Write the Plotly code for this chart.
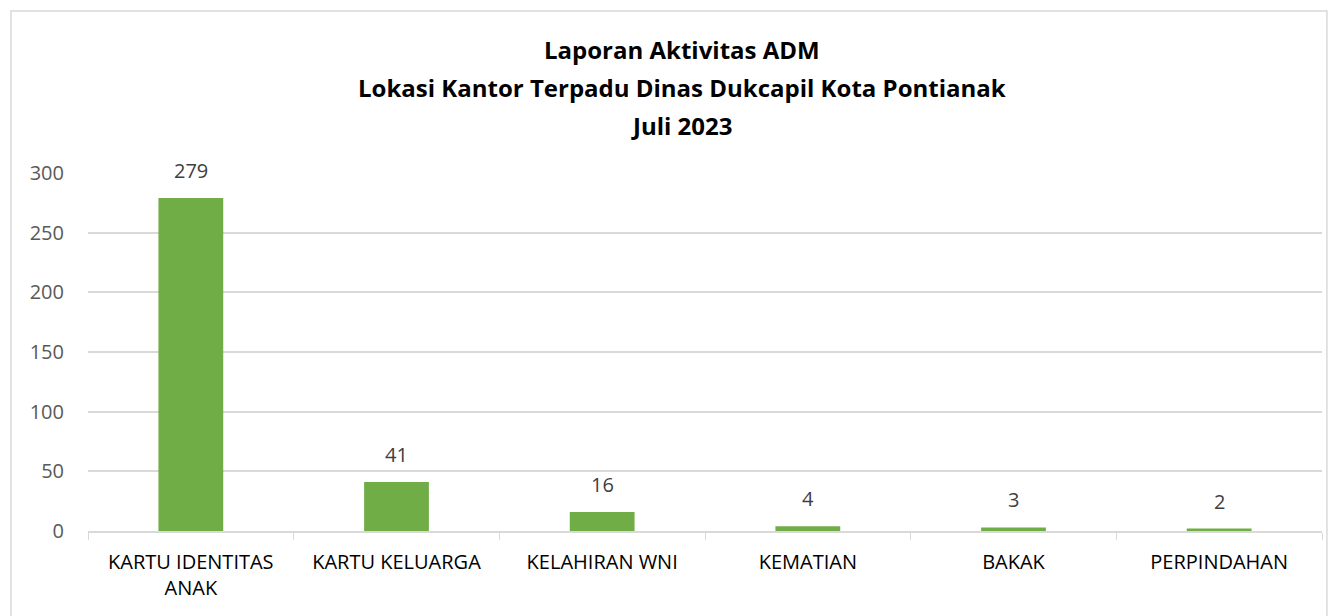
import plotly.graph_objects as go

categories = ["KARTU IDENTITAS<br>ANAK", "KARTU KELUARGA", "KELAHIRAN WNI", "KEMATIAN", "BAKAK", "PERPINDAHAN"]
values = [279, 41, 16, 4, 3, 2]
title_lines = ["Laporan Aktivitas ADM", "Lokasi Kantor Terpadu Dinas Dukcapil Kota Pontianak", "Juli 2023"]
y_ticks = [0, 50, 100, 150, 200, 250, 300]

FONT = "Open Sans"
fig = go.Figure()
fig.add_trace(go.Bar(
    x=categories, y=values, marker=dict(color="#70AD47", line=dict(width=0)),
    width=0.315, hoverinfo="x+y",
))

annotations = []
for c, v in zip(categories, values):
    annotations.append(dict(x=c, y=v, xref="x", yref="y", text=str(v), showarrow=False,
                            yanchor="bottom", yshift=12,
                            font=dict(family=FONT, size=20, color="#404040")))
title_y = [1.3436, 1.2402, 1.134]
for t, yy in zip(title_lines, title_y):
    annotations.append(dict(x=0.4814, y=yy, xref="paper", yref="paper", text="<b>" + t + "</b>",
                            showarrow=False, xanchor="center", yanchor="middle",
                            font=dict(family=FONT, size=24, color="#000000")))

fig.update_layout(
    width=1328, height=616,
    margin=dict(l=88, r=6, t=173, b=85),
    paper_bgcolor="white", plot_bgcolor="white",
    showlegend=False,
    annotations=annotations,
    shapes=[dict(type="rect", xref="paper", yref="paper", x0=-0.0624, x1=1.004, y0=-0.3, y1=1.4525,
                 line=dict(color="#D9D9D9", width=1.5), layer="below")],
    xaxis=dict(showgrid=False, showline=True, linecolor="#D9D9D9", linewidth=1.5,
               ticks="outside", ticklen=7, tickcolor="#D9D9D9", tickson="boundaries",
               ticklabelstandoff=12,
               tickfont=dict(family=FONT, size=20, color="#000000"), fixedrange=True),
    yaxis=dict(range=[0, 300], tickvals=y_ticks, showgrid=True, gridcolor="#D9D9D9", gridwidth=1.5,
               zeroline=False, showline=False, ticks="", ticklabelstandoff=23,
               tickfont=dict(family=FONT, size=20, color="#595959"), fixedrange=True),
    bargap=0.685,
)
fig.write_html("out.html")
